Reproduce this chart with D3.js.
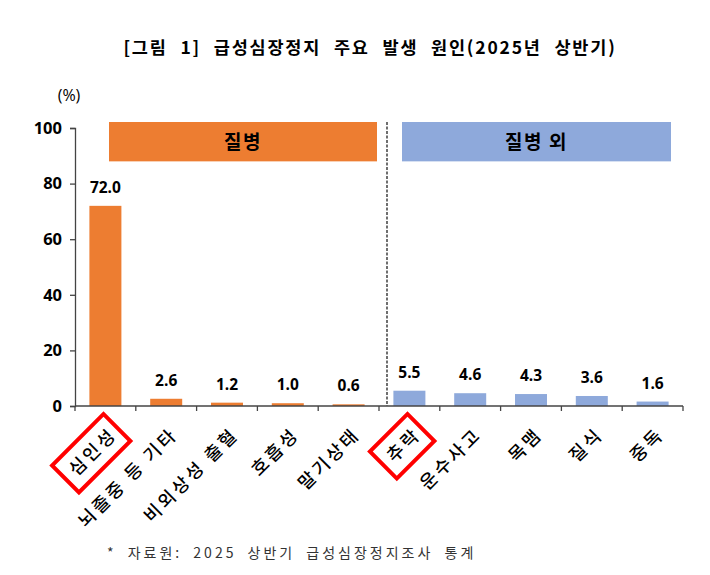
<!DOCTYPE html>
<html>
<head>
<meta charset="utf-8">
<script src="https://cdn.jsdelivr.net/npm/d3@7"></script>
<style>
  body { margin: 0; background: #fff; }
  svg { display: block; }
</style>
</head>
<body>
<svg id="chart" width="710" height="575"></svg>
<script>
// categories and values (%)
var categories = ['심인성', '뇌졸중 등 기타', '비외상성 출혈', '호흡성', '말기상태',
                  '추락', '운수사고', '목맴', '질식', '중독'];
var values = [72.0, 2.6, 1.2, 1.0, 0.6, 5.5, 4.6, 4.3, 3.6, 1.6];
var groupNames = ['질병', '질병 외'];
var groupOf = [0, 0, 0, 0, 0, 1, 1, 1, 1, 1];
var highlighted = ['심인성', '추락'];
var yTicks = [0, 20, 40, 60, 80, 100];

var colors = ['#ED7D31', '#8EA9DB'];
var krFont = '"Noto Sans CJK KR", "Noto Sans", sans-serif';
var numFont = '"Open Sans", "Noto Sans", sans-serif';

var svg = d3.select('#chart');

var x = d3.scaleBand().domain(categories).range([75, 683]).padding(0);
var y = d3.scaleLinear().domain([0, 100]).range([406, 128]);
var barW = 32;

// title
svg.append('text')
    .attr('x', 370).attr('y', 54)
    .attr('text-anchor', 'middle')
    .style('font-family', krFont).style('font-weight', 700)
    .style('font-size', '17.5px').style('letter-spacing', '1.8px')
    .style('word-spacing', '7px')
    .text('[그림 1] 급성심장정지 주요 발생 원인(2025년 상반기)');

// unit
svg.append('text')
    .attr('x', 69).attr('y', 101)
    .attr('text-anchor', 'middle')
    .style('font-family', numFont).style('font-size', '16px')
    .text('(%)');

// group headers
var firstOf = function(g) { return categories[groupOf.indexOf(g)]; };
var lastOf = function(g) { return categories[groupOf.lastIndexOf(g)]; };
var left = [34, 23], right = [-2, -12];
var headers = svg.selectAll('g.header').data(groupNames).enter()
    .append('g').attr('class', 'header');
headers.append('rect')
    .attr('x', (d, i) => x(firstOf(i)) + left[i])
    .attr('width', (d, i) => x(lastOf(i)) + x.bandwidth() + right[i] - (x(firstOf(i)) + left[i]))
    .attr('y', y(100) - 6)
    .attr('height', y(88) - y(100) + 6)
    .attr('fill', (d, i) => colors[i]);
headers.append('text')
    .attr('x', (d, i) => (x(firstOf(i)) + left[i] + x(lastOf(i)) + x.bandwidth() + right[i]) / 2)
    .attr('y', (y(100) - 6 + y(88)) / 2)
    .attr('dy', '0.36em')
    .attr('text-anchor', 'middle')
    .style('font-family', krFont).style('font-weight', 700)
    .style('font-size', '19px').style('letter-spacing', '1.5px')
    .text(d => d);

// separator between groups
svg.append('line')
    .attr('x1', x(firstOf(1)) + 8).attr('x2', x(firstOf(1)) + 8)
    .attr('y1', y(100) - 6).attr('y2', y(0))
    .attr('stroke', '#222').attr('stroke-width', 1.3)
    .attr('stroke-dasharray', '3,1.5');

// bars
svg.selectAll('rect.bar').data(values).enter()
    .append('rect').attr('class', 'bar')
    .attr('x', (d, i) => x(categories[i]) + (x.bandwidth() - barW) / 2)
    .attr('width', barW)
    .attr('y', d => y(d))
    .attr('height', d => y(0) - y(d))
    .attr('fill', (d, i) => colors[groupOf[i]]);

// value labels
svg.selectAll('text.val').data(values).enter()
    .append('text').attr('class', 'val')
    .attr('x', (d, i) => x(categories[i]) + x.bandwidth() / 2)
    .attr('y', d => y(d) - 13)
    .attr('text-anchor', 'middle')
    .style('font-family', numFont).style('font-weight', 700)
    .style('font-size', '15.5px')
    .text(d => d.toFixed(1));

// y axis
var yAxis = svg.append('g')
    .attr('transform', 'translate(75,0)')
    .call(d3.axisLeft(y).tickValues(yTicks).tickSize(5).tickPadding(8));
yAxis.select('.domain').attr('stroke', '#444').attr('stroke-width', 1.3);
yAxis.selectAll('.tick line').attr('stroke', '#444').attr('stroke-width', 1.3);
yAxis.selectAll('.tick text')
    .style('font-family', numFont).style('font-weight', 700)
    .style('font-size', '16.5px').attr('fill', '#000');

// x axis with boundary ticks
var xAxis = svg.append('g').attr('transform', 'translate(0,' + y(0) + ')');
xAxis.append('line')
    .attr('x1', x.range()[0]).attr('x2', x.range()[1])
    .attr('stroke', '#444').attr('stroke-width', 1.3);
var bounds = categories.map(c => x(c)).concat([x.range()[1]]);
xAxis.selectAll('line.tk').data(bounds).enter()
    .append('line').attr('class', 'tk')
    .attr('x1', d => d).attr('x2', d => d)
    .attr('y1', 0).attr('y2', 5)
    .attr('stroke', '#444').attr('stroke-width', 1.3);

// rotated category labels
var labels = svg.selectAll('g.lab').data(categories).enter()
    .append('g').attr('class', 'lab')
    .attr('transform', d => 'translate(' + (x(d) + x.bandwidth() / 2 + 8) + ',431) rotate(-45)');
labels.append('text')
    .attr('text-anchor', 'end')
    .attr('dy', '0.36em')
    .style('font-family', krFont).style('font-weight', 500)
    .style('font-size', '18px').style('letter-spacing', '3px')
    .text(d => d);

// red boxes around highlighted labels
labels.filter(d => highlighted.indexOf(d) >= 0).each(function() {
    var g = d3.select(this);
    var bb = g.select('text').node().getBBox();
    g.insert('rect', 'text')
        .attr('x', bb.x - 9).attr('y', -19)
        .attr('width', bb.width + 14).attr('height', 38)
        .attr('fill', 'none').attr('stroke', '#FF0000').attr('stroke-width', 4);
});

// footnote
svg.append('text')
    .attr('x', 107).attr('y', 558)
    .style('font-family', krFont).style('font-size', '14px')
    .style('letter-spacing', '3px').style('word-spacing', '5px')
    .attr('fill', '#333')
    .text('* 자료원: 2025 상반기 급성심장정지조사 통계');
</script>
</body>
</html>
